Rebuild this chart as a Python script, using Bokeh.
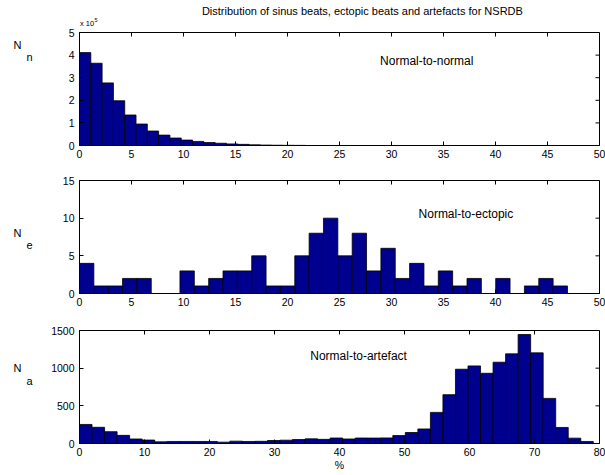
import numpy as np
from bokeh.plotting import figure
from bokeh.models import Range1d, FixedTicker, ColumnDataSource
from bokeh.core.properties import value
from bokeh.layouts import column, row
from bokeh.embed import file_html
from bokeh.resources import INLINE

# ---------------- data ----------------
title_text = "Distribution of sinus beats, ectopic beats and artefacts for NSRDB"

# Normal-to-normal histogram (counts)
nn_counts = [411000, 364000, 277000, 198000, 135000, 95000, 64000, 46000, 33000,
             24000, 18000, 13000, 10000, 7000, 5000, 3000, 2000, 1200, 800, 500]
nn_bin = 1.087
nn_scale = 1e5

# Normal-to-ectopic histogram (counts)
ne_counts = [4, 1, 1, 2, 2, 0, 0, 3, 1, 2, 3, 3, 5, 1, 1, 5, 8, 10, 5, 8,
             3, 6, 2, 4, 1, 3, 1, 2, 0, 2, 0, 1, 2, 1]
ne_bin = 1.38

# Normal-to-artefact histogram (counts)
na_counts = [253, 215, 157, 108, 60, 46, 22, 27, 27, 27, 27, 18, 31, 27, 29, 40,
             44, 53, 62, 55, 73, 60, 73, 72, 74, 105, 146, 193, 413, 648, 986,
             1030, 932, 1079, 1190, 1447, 1203, 599, 213, 71, 27]
na_bin = 1.928

nn_xticks = [0, 5, 10, 15, 20, 25, 30, 35, 40, 45, 50]
nn_yticks = [0, 1, 2, 3, 4, 5]
ne_xticks = [0, 5, 10, 15, 20, 25, 30, 35, 40, 45, 50]
ne_yticks = [0, 5, 10, 15]
na_xticks = [0, 10, 20, 30, 40, 50, 60, 70, 80]
na_yticks = [0, 500, 1000, 1500]

nn_label = "Normal-to-normal"
ne_label = "Normal-to-ectopic"
na_label = "Normal-to-artefact"

# ---------------- style ----------------
FONT = "Liberation Sans"
BAR = "#00008F"
TICK_FS = "10.5px"
LABEL_FS = "12px"
LEFT_W = 40
FRAME_W = 520
FRAME_H = 113
BORDER_L = 39
BORDER_R = 6
TOTAL_H = 473


def style_axis(ax, ticks):
    ax.ticker = FixedTicker(ticks=ticks, minor_ticks=[])
    ax.axis_line_color = "black"
    ax.axis_line_width = 1
    ax.major_tick_in = 4
    ax.major_tick_out = 0
    ax.major_tick_line_color = "black"
    ax.minor_tick_line_color = None
    ax.major_label_text_font = FONT
    ax.major_label_text_color = "black"
    ax.major_label_text_font_size = TICK_FS
    ax.major_label_standoff = 4


def make_fig(xmax, ymax, xticks, yticks, btop, bbottom):
    p = figure(frame_width=FRAME_W, frame_height=FRAME_H,
               x_range=Range1d(0, xmax), y_range=Range1d(0, ymax),
               output_backend="svg", toolbar_location=None,
               min_border_left=BORDER_L, min_border_right=BORDER_R,
               min_border_top=btop, min_border_bottom=bbottom)
    p.grid.visible = False
    p.outline_line_color = "black"
    p.outline_line_width = 1
    p.background_fill_color = "white"
    p.border_fill_color = "white"
    style_axis(p.xaxis[0], xticks)
    style_axis(p.yaxis[0], yticks)
    p.yaxis[0].major_label_standoff = 5
    # inward ticks on the top and right edges of the box
    p.ray(x=xticks, y=[ymax] * len(xticks), length=4, length_units="screen",
          angle=-np.pi / 2, line_color="black", line_width=1)
    p.ray(x=[xmax] * len(yticks), y=yticks, length=4, length_units="screen",
          angle=np.pi, line_color="black", line_width=1)
    return p


def add_hist(p, counts, binw, scale=1.0):
    n = len(counts)
    edges = np.arange(n + 1) * binw
    src = ColumnDataSource(dict(left=edges[:-1], right=edges[1:],
                                top=np.array(counts, dtype=float) / scale,
                                bottom=np.zeros(n)))
    p.quad(left="left", right="right", top="top", bottom="bottom", source=src,
           fill_color=BAR, line_color="black", line_width=0.8)


def add_text(p, x, y, text, size="10px", align="left"):
    p.text(x=[x], y=[y], text=[text], text_font=value(FONT), text_font_size=size,
           text_color="black", text_align=align, text_baseline="middle")


def blank_fig(w, h, xr, yr):
    f = figure(width=w, height=h, x_range=Range1d(*xr), y_range=Range1d(*yr),
               output_backend="svg", toolbar_location=None,
               x_axis_location=None, y_axis_location=None,
               min_border=0)
    f.grid.visible = False
    f.outline_line_color = None
    f.background_fill_color = "white"
    f.border_fill_color = "white"
    return f


# ---------------- header (title and exponent) ----------------
HEAD_H = 28
header = figure(frame_width=FRAME_W, frame_height=HEAD_H,
                x_range=Range1d(0, 50), y_range=Range1d(0, HEAD_H),
                output_backend="svg", toolbar_location=None,
                x_axis_location=None, y_axis_location=None,
                min_border_left=BORDER_L, min_border_right=BORDER_R,
                min_border_top=0, min_border_bottom=0)
header.grid.visible = False
header.outline_line_color = None
add_text(header, 27.2, 18, title_text, size="11px", align="center")
add_text(header, 0.05, 5.3, "x 10", size="7.5px")
add_text(header, 1.45, 8.2, "5", size="5.5px")

# ---------------- panel 1 ----------------
p1 = make_fig(50, 5, nn_xticks, nn_yticks, 4, 20)
add_hist(p1, nn_counts, nn_bin, nn_scale)
add_text(p1, 28.9, 3.75, nn_label, size=LABEL_FS)

# ---------------- panel 2 ----------------
p2 = make_fig(50, 15, ne_xticks, ne_yticks, 15, 20)
add_hist(p2, ne_counts, ne_bin)
add_text(p2, 32.6, 10.6, ne_label, size=LABEL_FS)

# ---------------- panel 3 ----------------
p3 = make_fig(80, 1500, na_xticks, na_yticks, 17, 30)
add_hist(p3, na_counts, na_bin)
xa = p3.xaxis[0]
xa.axis_label = "%"
xa.axis_label_text_font = FONT
xa.axis_label_text_font_size = "10.5px"
xa.axis_label_text_font_style = "normal"
xa.axis_label_text_color = "black"
xa.axis_label_standoff = 0
add_text(p3, 35.5, 1168, na_label, size=LABEL_FS)

# ---------------- left strip with the y labels ----------------
left = blank_fig(LEFT_W, TOTAL_H, (0, LEFT_W), (0, TOTAL_H))
add_text(left, 13, TOTAL_H - 44, "N", size="11px")
add_text(left, 26, TOTAL_H - 56, "n", size="11px")
add_text(left, 13, TOTAL_H - 232, "N", size="11px")
add_text(left, 26, TOTAL_H - 244, "e", size="11px")
add_text(left, 13, TOTAL_H - 367, "N", size="11px")
add_text(left, 26, TOTAL_H - 380, "a", size="11px")

layout = row(left, column(header, p1, p2, p3))
open("out.html", "w").write(file_html(layout, INLINE))
